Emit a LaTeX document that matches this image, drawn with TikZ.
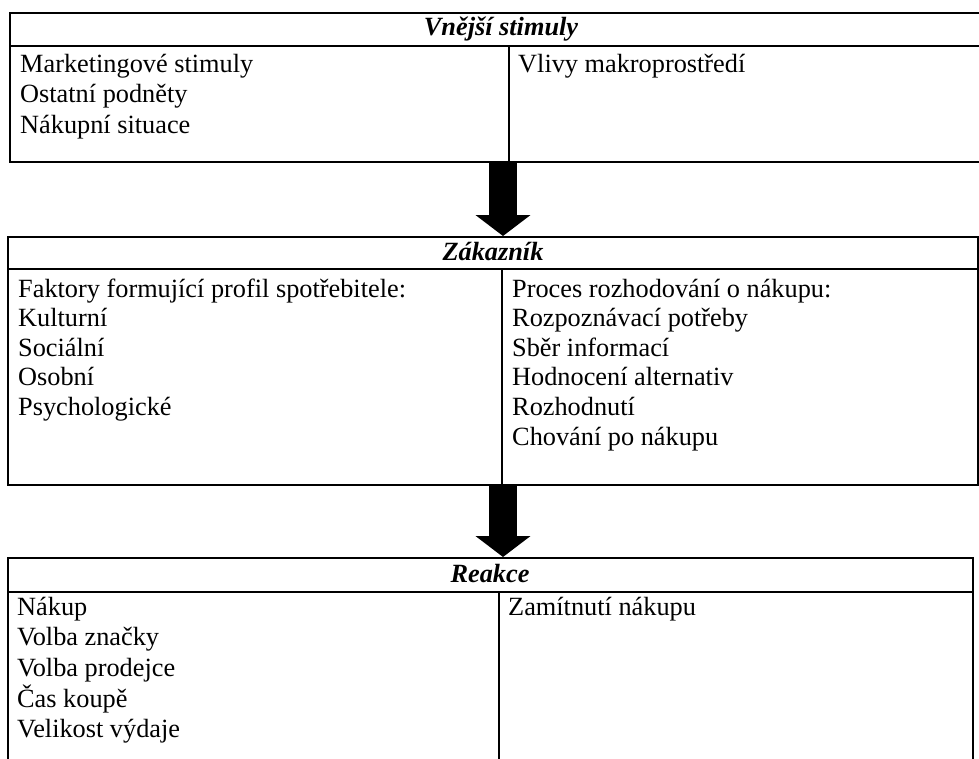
\documentclass[tikz,border=0pt]{standalone}
\usepackage{fontspec}
\setmainfont{Liberation Serif}
\usetikzlibrary{arrows.meta}
\begin{document}
\begin{tikzpicture}[x=1pt,y=-1pt,
  frame/.style={line width=2.4pt},
  txt/.style={anchor=base west, inner sep=0pt, font=\fontsize{26.3}{30}\selectfont},
  ttl/.style={anchor=base, inner sep=0pt, font=\fontsize{26.3}{30}\selectfont\bfseries\itshape},
  bigarrow/.style={line width=28pt, -{Triangle[width=54pt 0 0, length=21pt 0 0]}}]
\useasboundingbox (0,0) rectangle (979,758);
% top box
\draw[frame] (10,13) rectangle (992,162);
\draw[frame] (10,46) -- (992,46);
\draw[frame] (509,46) -- (509,162);
\node[ttl] (t1) at (501,35) {Vnější stimuly};
\foreach \t [count=\i] in {Marketingové stimuly, Ostatní podněty, Nákupní situace}
  \node[txt] (a\i) at (20,{72+(\i-1)*30.5}) {\t};
\node[txt] (b1) at (518,72) {Vlivy makroprostředí};
% middle box
\draw[frame] (8,237) rectangle (978,485);
\draw[frame] (8,269) -- (978,269);
\draw[frame] (502,269) -- (502,485);
\node[ttl] (t2) at (493,260) {Zákazník};
\foreach \t [count=\i] in {Faktory formující profil spotřebitele:, Kulturní, Sociální, Osobní, Psychologické}
  \node[txt] (c\i) at (18,{297+(\i-1)*29.6}) {\t};
\foreach \t [count=\i] in {Proces rozhodování o nákupu:, Rozpoznávací potřeby, Sběr informací, Hodnocení alternativ, Rozhodnutí, Chování po nákupu}
  \node[txt] (d\i) at (512,{297+(\i-1)*29.6}) {\t};
% bottom box
\draw[frame] (8,770) -- (8,558) -- (973,558) -- (973,770);
\draw[frame] (8,592) -- (973,592);
\draw[frame] (499,592) -- (499,770);
\node[ttl] (t3) at (490,582) {Reakce};
\foreach \t [count=\i] in {Nákup, Volba značky, Volba prodejce, Čas koupě, Velikost výdaje}
  \node[txt] (e\i) at (17,{615+(\i-1)*30.7}) {\t};
\node[txt] (f1) at (508,615) {Zamítnutí nákupu};
% arrows
\coordinate (p1) at (503,163);
\coordinate (q1) at (503,236);
\coordinate (p2) at (503,486);
\coordinate (q2) at (503,557);
\draw[bigarrow] (p1) -- (q1);
\draw[bigarrow] (p2) -- (q2);
\end{tikzpicture}
\end{document}
